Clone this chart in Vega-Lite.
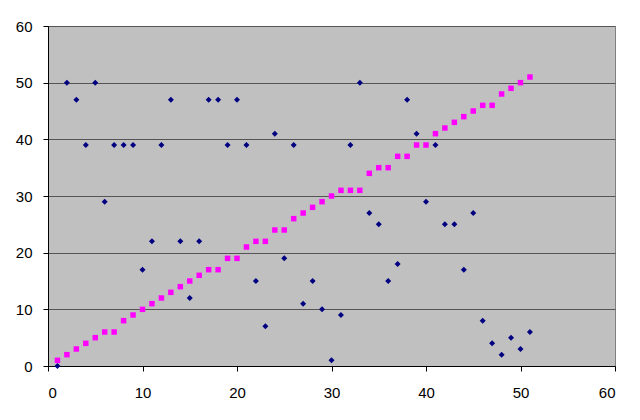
{
  "$schema": "https://vega.github.io/schema/vega-lite/v6.json",
  "autosize": {"type": "none"},
  "width": 567,
  "height": 340,
  "padding": {"left": 48, "top": 26, "right": 25, "bottom": 54},
  "background": "white",
  "config": {
    "view": {"fill": "#C0C0C0", "stroke": "#808080", "strokeWidth": 1},
    "axis": {
      "labelFont": "Liberation Sans",
      "labelFontSize": 15,
      "labelColor": "#000000",
      "domainColor": "#000000",
      "tickColor": "#000000",
      "tickSize": 5,
      "title": null
    }
  },
  "data": {
    "values": [
      {"x": 1, "a": 0, "b": 1},
      {"x": 2, "a": 50, "b": 2},
      {"x": 3, "a": 47, "b": 3},
      {"x": 4, "a": 39, "b": 4},
      {"x": 5, "a": 50, "b": 5},
      {"x": 6, "a": 29, "b": 6},
      {"x": 7, "a": 39, "b": 6},
      {"x": 8, "a": 39, "b": 8},
      {"x": 9, "a": 39, "b": 9},
      {"x": 10, "a": 17, "b": 10},
      {"x": 11, "a": 22, "b": 11},
      {"x": 12, "a": 39, "b": 12},
      {"x": 13, "a": 47, "b": 13},
      {"x": 14, "a": 22, "b": 14},
      {"x": 15, "a": 12, "b": 15},
      {"x": 16, "a": 22, "b": 16},
      {"x": 17, "a": 47, "b": 17},
      {"x": 18, "a": 47, "b": 17},
      {"x": 19, "a": 39, "b": 19},
      {"x": 20, "a": 47, "b": 19},
      {"x": 21, "a": 39, "b": 21},
      {"x": 22, "a": 15, "b": 22},
      {"x": 23, "a": 7, "b": 22},
      {"x": 24, "a": 41, "b": 24},
      {"x": 25, "a": 19, "b": 24},
      {"x": 26, "a": 39, "b": 26},
      {"x": 27, "a": 11, "b": 27},
      {"x": 28, "a": 15, "b": 28},
      {"x": 29, "a": 10, "b": 29},
      {"x": 30, "a": 1, "b": 30},
      {"x": 31, "a": 9, "b": 31},
      {"x": 32, "a": 39, "b": 31},
      {"x": 33, "a": 50, "b": 31},
      {"x": 34, "a": 27, "b": 34},
      {"x": 35, "a": 25, "b": 35},
      {"x": 36, "a": 15, "b": 35},
      {"x": 37, "a": 18, "b": 37},
      {"x": 38, "a": 47, "b": 37},
      {"x": 39, "a": 41, "b": 39},
      {"x": 40, "a": 29, "b": 39},
      {"x": 41, "a": 39, "b": 41},
      {"x": 42, "a": 25, "b": 42},
      {"x": 43, "a": 25, "b": 43},
      {"x": 44, "a": 17, "b": 44},
      {"x": 45, "a": 27, "b": 45},
      {"x": 46, "a": 8, "b": 46},
      {"x": 47, "a": 4, "b": 46},
      {"x": 48, "a": 2, "b": 48},
      {"x": 49, "a": 5, "b": 49},
      {"x": 50, "a": 3, "b": 50},
      {"x": 51, "a": 6, "b": 51}
    ]
  },
  "encoding": {
    "x": {
      "field": "x", "type": "quantitative",
      "scale": {"domain": [0, 60], "nice": false},
      "axis": {"values": [0, 10, 20, 30, 40, 50, 60], "grid": false, "labelPadding": 14}
    }
  },
  "layer": [
    {
      "mark": {"type": "point", "shape": "square", "filled": true, "color": "#FF00FF", "size": 30, "opacity": 1},
      "encoding": {
        "y": {
          "field": "b", "type": "quantitative",
          "scale": {"domain": [0, 60], "nice": false},
          "axis": {"values": [0, 10, 20, 30, 40, 50, 60], "grid": true, "gridColor": "#555555", "gridWidth": 1, "labelPadding": 11}
        }
      }
    },
    {
      "mark": {"type": "point", "shape": "diamond", "filled": true, "color": "#000080", "size": 36, "opacity": 1},
      "encoding": {
        "y": {"field": "a", "type": "quantitative"}
      }
    }
  ]
}
